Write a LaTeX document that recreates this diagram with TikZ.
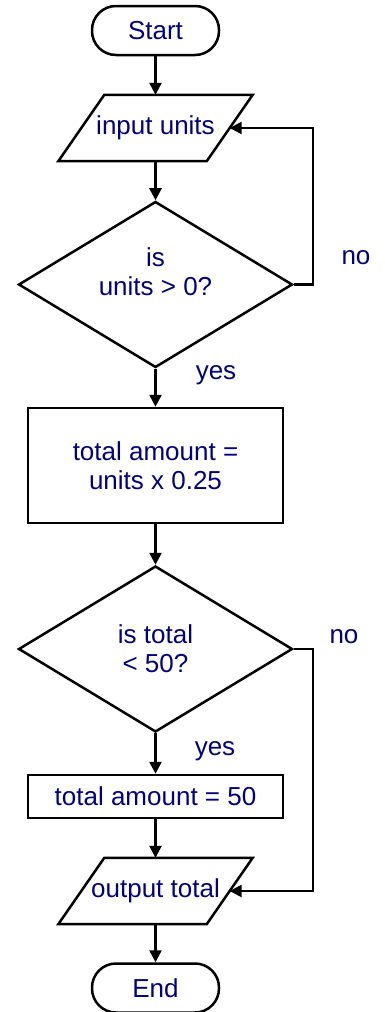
\documentclass[tikz,border=0pt]{standalone}
\usepackage{fontspec}
\setmainfont{Liberation Sans}
\usetikzlibrary{arrows.meta,shapes.geometric}
\definecolor{labelblue}{RGB}{0,0,128}

\begin{document}
\begin{tikzpicture}[x=1pt,y=1pt]
	\tikzstyle{every node}+=[inner sep=0pt,text=labelblue,font=\fontsize{26}{29}\selectfont]
	\tikzstyle{flow}=[draw=black,line width=2.5pt]
	\tikzstyle{term}=[flow,rectangle,rounded corners=24pt,minimum width=127pt,minimum height=49pt]
	\tikzstyle{io}=[rectangle,minimum width=148pt,minimum height=66pt]
	\tikzstyle{proc}=[flow,rectangle,align=center,minimum width=255pt]
	\tikzstyle{decide}=[flow,diamond,aspect=1.65,align=center,minimum width=274pt,minimum height=166pt]
	\tikzstyle{line}=[black,line width=2.5pt,-{Triangle[length=12pt,width=12pt]}]
	\useasboundingbox (0,0) rectangle (385,-1012);
	\node[term] (start) at (155.5,-30.5) {Start};
	\node[io] (inp) at (155.5,-128) {input units};
	\node[decide] (chk) at (155.5,-284.5) {};
	\node[align=center] (chktext) at (155.5,-272) {is\\units > 0?};
	\node[proc,minimum height=115pt] (calc) at (155.5,-465.5) {total amount =\\units x 0.25};
	\node[decide] (cap) at (155.5,-649) {is total\\< 50?};
	\node[proc,minimum height=43pt] (fix) at (155.5,-796.5) {total amount = 50};
	\node[io] (outp) at (155.5,-891) {output total};
	\node[term] (stop) at (155.5,-988) {End};
	\node (no1) at (356,-258) {no};
	\node (yes1) at (216,-375) {yes};
	\node (no2) at (344,-637) {no};
	\node (yes2) at (215,-751) {yes};
	% slanted input/output boxes
	\foreach \n in {inp,outp}
		\draw[flow,line join=miter] ([xshift=-23pt]\n.south west) -- ([xshift=-23pt]\n.south east)
			-- ([xshift=23pt]\n.north east) -- ([xshift=23pt]\n.north west) -- cycle;
	% main flow
	\draw[line] (start) -- (inp);
	\draw[line] (inp) -- (chk);
	\draw[line] (chk) -- (calc);
	\draw[line] (calc) -- (cap);
	\draw[line] (cap) -- (fix);
	\draw[line] (fix) -- (outp);
	\draw[line] (outp) -- (stop);
	% no branches
	\draw[line] (chk.east) -- ++(19,0) |- (inp.east);
	\draw[line] (cap.east) -- ++(19,0) |- (outp.east);
\end{tikzpicture}
\end{document}
